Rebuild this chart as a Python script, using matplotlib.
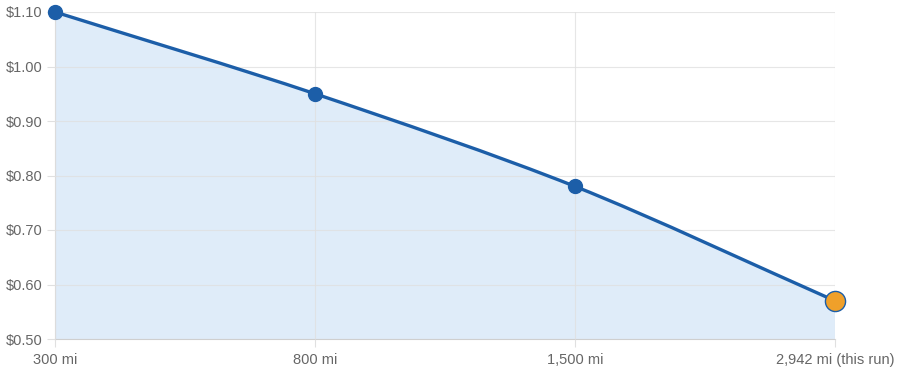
import numpy as np
import matplotlib
matplotlib.use("Agg")
import matplotlib.pyplot as plt
from matplotlib.path import Path
from matplotlib.patches import PathPatch

labels = ["300 mi", "800 mi", "1,500 mi", "2,942 mi (this run)"]
cost = [1.10, 0.95, 0.78, 0.57]
yticks = [0.50, 0.60, 0.70, 0.80, 0.90, 1.00, 1.10]

LINE = "#1c5ea8"
FILL = "#dfecf9"
GRID = "#e0e0e0"
TEXT = "#666666"

plt.rcParams["font.family"] = ["Liberation Sans", "DejaVu Sans"]

fig = plt.figure(figsize=(9, 3.75), dpi=100)
ax = fig.add_axes([55 / 900, 36 / 375, 780 / 900, 327 / 375])

xs = np.arange(len(cost), dtype=float)
ys = np.array(cost)

# Chart.js style bezier (tension) - control points from neighbours, in pixel space
sx, sy = 260.0, 545.0
tension = 0.3
ctrl_prev, ctrl_next = [], []
for i in range(len(xs)):
    p1 = np.array([xs[i] * sx, ys[i] * sy])
    p0 = np.array([xs[max(i - 1, 0)] * sx, ys[max(i - 1, 0)] * sy])
    p2 = np.array([xs[min(i + 1, len(xs) - 1)] * sx, ys[min(i + 1, len(xs) - 1)] * sy])
    d01 = np.linalg.norm(p1 - p0)
    d12 = np.linalg.norm(p2 - p1)
    tot = d01 + d12 if d01 + d12 > 0 else 1
    fa = tension * d01 / tot
    fb = tension * d12 / tot
    cp = p1 - fa * (p2 - p0)
    cn = p1 + fb * (p2 - p0)
    cp[1] = min(cp[1], 1.10 * sy)
    cn[1] = min(cn[1], 1.10 * sy)
    ctrl_prev.append((cp[0] / sx, cp[1] / sy))
    ctrl_next.append((cn[0] / sx, cn[1] / sy))

verts = [(xs[0], ys[0])]
codes = [Path.MOVETO]
for i in range(1, len(xs)):
    verts += [ctrl_next[i - 1], ctrl_prev[i], (xs[i], ys[i])]
    codes += [Path.CURVE4] * 3

fill_verts = verts + [(xs[-1], 0.5), (xs[0], 0.5), (xs[0], ys[0])]
fill_codes = codes + [Path.LINETO, Path.LINETO, Path.CLOSEPOLY]
ax.add_patch(PathPatch(Path(fill_verts, fill_codes), facecolor=FILL, edgecolor="none", zorder=1))
ax.add_patch(PathPatch(Path(verts, codes), facecolor="none", edgecolor=LINE, lw=2.4,
                       capstyle="round", zorder=3))

ax.plot(xs[:-1], ys[:-1], "o", ms=10, color=LINE, zorder=4, clip_on=False)
ax.plot(xs[-1:], ys[-1:], "o", ms=14.5, markerfacecolor="#f0a02a", markeredgecolor=LINE,
        markeredgewidth=1.0, zorder=5, clip_on=False)

ax.set_xlim(0, 3)
ax.set_ylim(0.5, 1.1)
ax.set_xticks(xs)
ax.set_xticklabels(labels)
ax.set_yticks(yticks)
ax.set_yticklabels(["$%.2f" % v for v in yticks])

ax.set_axisbelow(False)
ax.grid(True, color=GRID, lw=0.8, alpha=0.8)
for s in ["top", "right"]:
    ax.spines[s].set_visible(False)
for s in ["left", "bottom"]:
    ax.spines[s].set_color("#cfcfcf")
    ax.spines[s].set_linewidth(0.8)
    ax.spines[s].set_zorder(2)
ax.tick_params(axis="both", colors=GRID, length=6, width=0.8, labelcolor=TEXT, labelsize=10.5)
ax.tick_params(axis="y", pad=3)
ax.tick_params(axis="x", pad=4)

fig.savefig("out.png", dpi=100)
